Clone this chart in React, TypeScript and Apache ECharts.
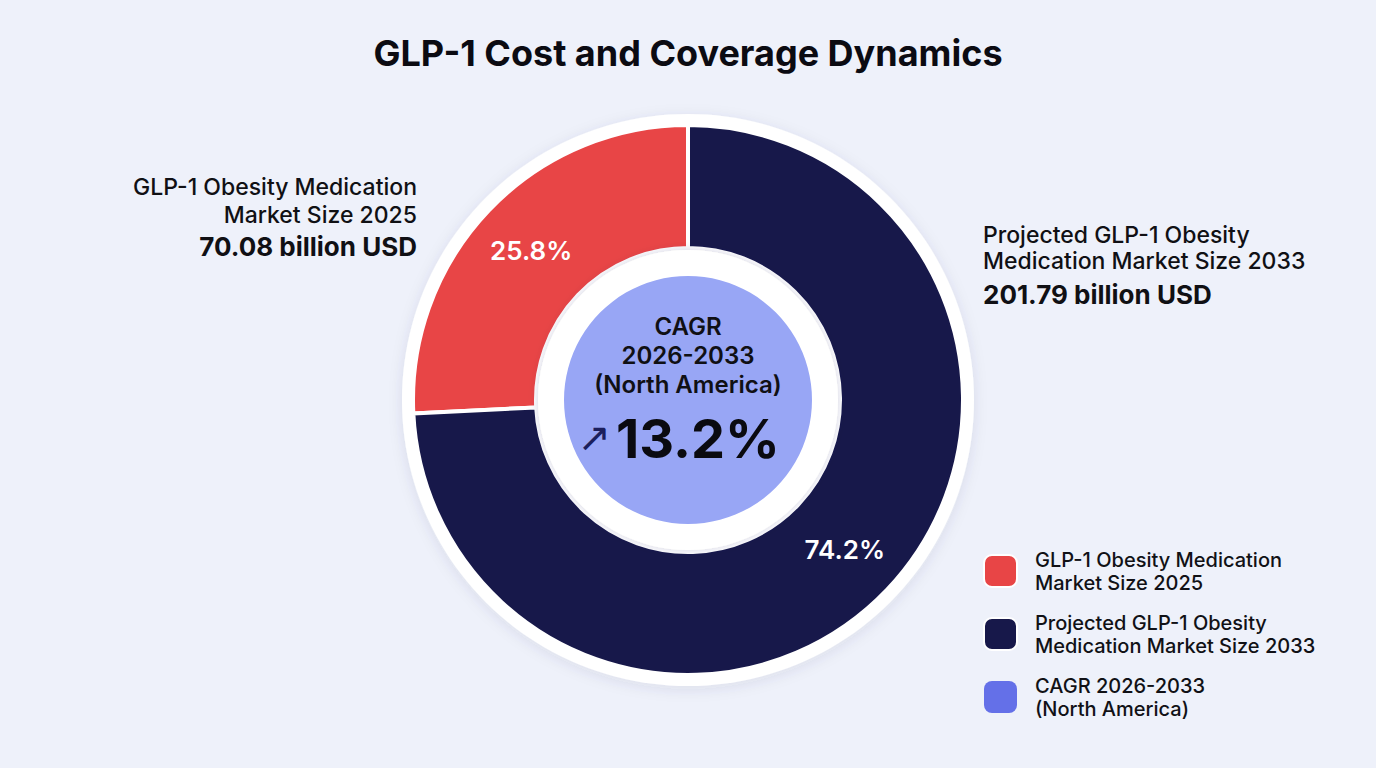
import React, { useEffect, useRef } from "react";
import * as echarts from "echarts";

const chartTitle = "GLP-1 Cost and Coverage Dynamics";
const categories = [
  "GLP-1 Obesity Medication Market Size 2025",
  "Projected GLP-1 Obesity Medication Market Size 2033",
];
const marketValues = [70.08, 201.79];
const valueLabels = ["70.08 billion USD", "201.79 billion USD"];
const cagrName = "CAGR 2026-2033 (North America)";
const cagrValue = 13.2;
const sliceColors = ["#E84546", "#17184A"];
const cagrDiscColor = "#98A6F5";
const cagrLegendColor = "#6470E8";

const legendNames: Record<string, string> = {
  [categories[0]]: "GLP-1 Obesity Medication\nMarket Size 2025",
  [categories[1]]: "Projected GLP-1 Obesity\nMedication Market Size 2033",
  [cagrName]: "CAGR 2026-2033\n(North America)",
};

const FONT = "Inter, 'Noto Sans', 'DejaVu Sans', sans-serif";

export default function App() {
  const ref = useRef<HTMLDivElement>(null);
  useEffect(() => {
    if (!ref.current) return;
    const chart = echarts.init(ref.current, null, { renderer: "svg" });
    const center = [688, 400];
    const txt = (
      text: string,
      x: number,
      y: number,
      size: number,
      weight: number,
      align: string,
      fill = "#101014",
      family = FONT
    ) => ({
      type: "text",
      z: 100,
      style: {
        text,
        x,
        y,
        fill,
        fontSize: size,
        fontWeight: weight,
        fontFamily: family,
        textAlign: align,
        textVerticalAlign: "middle",
      },
    });
    chart.setOption({
      animation: false,
      backgroundColor: "#EEF1FA",
      title: {
        text: chartTitle,
        left: "center",
        top: 30,
        textStyle: {
          fontSize: 36,
          fontWeight: 700,
          color: "#0B0B12",
          fontFamily: FONT,
        },
      },
      legend: {
        orient: "vertical",
        left: 983,
        top: 548,
        padding: 0,
        itemWidth: 33,
        itemHeight: 32,
        itemGap: 17,
        icon: "roundRect",
        selectedMode: false,
        data: [
          { name: categories[0], itemStyle: { color: sliceColors[0] } },
          { name: categories[1], itemStyle: { color: sliceColors[1] } },
          { name: cagrName, itemStyle: { color: cagrLegendColor } },
        ],
        formatter: (n: string) => legendNames[n] || n,
        textStyle: {
          fontSize: 20,
          lineHeight: 23,
          fontWeight: 500,
          color: "#111116",
          fontFamily: FONT,
          padding: [0, 0, 0, 13],
        },
      },
      series: [
        {
          type: "pie",
          name: "ring",
          silent: true,
          center,
          radius: [0, 286],
          label: { show: false },
          labelLine: { show: false },
          itemStyle: {
            color: "#FFFFFF",
            shadowBlur: 14,
            shadowColor: "rgba(40,50,90,0.10)",
            shadowOffsetY: 3,
          },
          data: [{ name: "ringBack", value: 1 }],
        },
        {
          type: "pie",
          name: "market",
          silent: true,
          center,
          radius: [152, 275],
          startAngle: 90,
          clockwise: false,
          percentPrecision: 1,
          itemStyle: { borderColor: "#FFFFFF", borderWidth: 4 },
          label: {
            show: true,
            position: "inside",
            formatter: "{d}%",
            color: "#FFFFFF",
            fontSize: 26,
            fontWeight: 600,
            fontFamily: FONT,
          },
          labelLine: { show: false },
          data: categories.map((c, i) => ({
            name: c,
            value: marketValues[i],
            itemStyle: { color: sliceColors[i] },
          })),
        },
        {
          type: "pie",
          name: "innerWhite",
          silent: true,
          center,
          radius: [0, 150],
          label: { show: false },
          labelLine: { show: false },
          itemStyle: {
            color: "#FFFFFF",
            shadowBlur: 10,
            shadowColor: "rgba(40,50,90,0.18)",
          },
          data: [{ name: "innerBack", value: 1 }],
        },
        {
          type: "pie",
          name: "cagr",
          silent: true,
          center,
          radius: [0, 124],
          label: { show: false },
          labelLine: { show: false },
          itemStyle: { color: cagrDiscColor },
          data: [{ name: cagrName, value: cagrValue }],
        },
      ],
      graphic: [
        txt("GLP-1 Obesity Medication", 417, 187, 23, 500, "right"),
        txt("Market Size 2025", 417, 215, 23, 500, "right"),
        txt(valueLabels[0], 417, 246, 26, 700, "right"),
        txt("Projected GLP-1 Obesity", 983, 235, 23, 500, "left"),
        txt("Medication Market Size 2033", 983, 261, 23, 500, "left"),
        txt(valueLabels[1], 983, 294, 26, 700, "left"),
        txt("CAGR", 688, 326, 24, 600, "center"),
        txt("2026-2033", 688, 355, 24, 600, "center"),
        txt("(North America)", 688, 384, 24, 600, "center"),
        txt("↗", 611, 437, 40, 400, "right", "#1C1F5C", "'DejaVu Sans', sans-serif"),
        txt(cagrValue.toFixed(1) + "%", 616, 438, 54, 700, "left", "#0A0A10"),
      ],
    });
    return () => chart.dispose();
  }, []);
  return (
    <div
      ref={ref}
      style={{ position: "fixed", left: 0, top: 0, width: 1376, height: 768 }}
    />
  );
}
